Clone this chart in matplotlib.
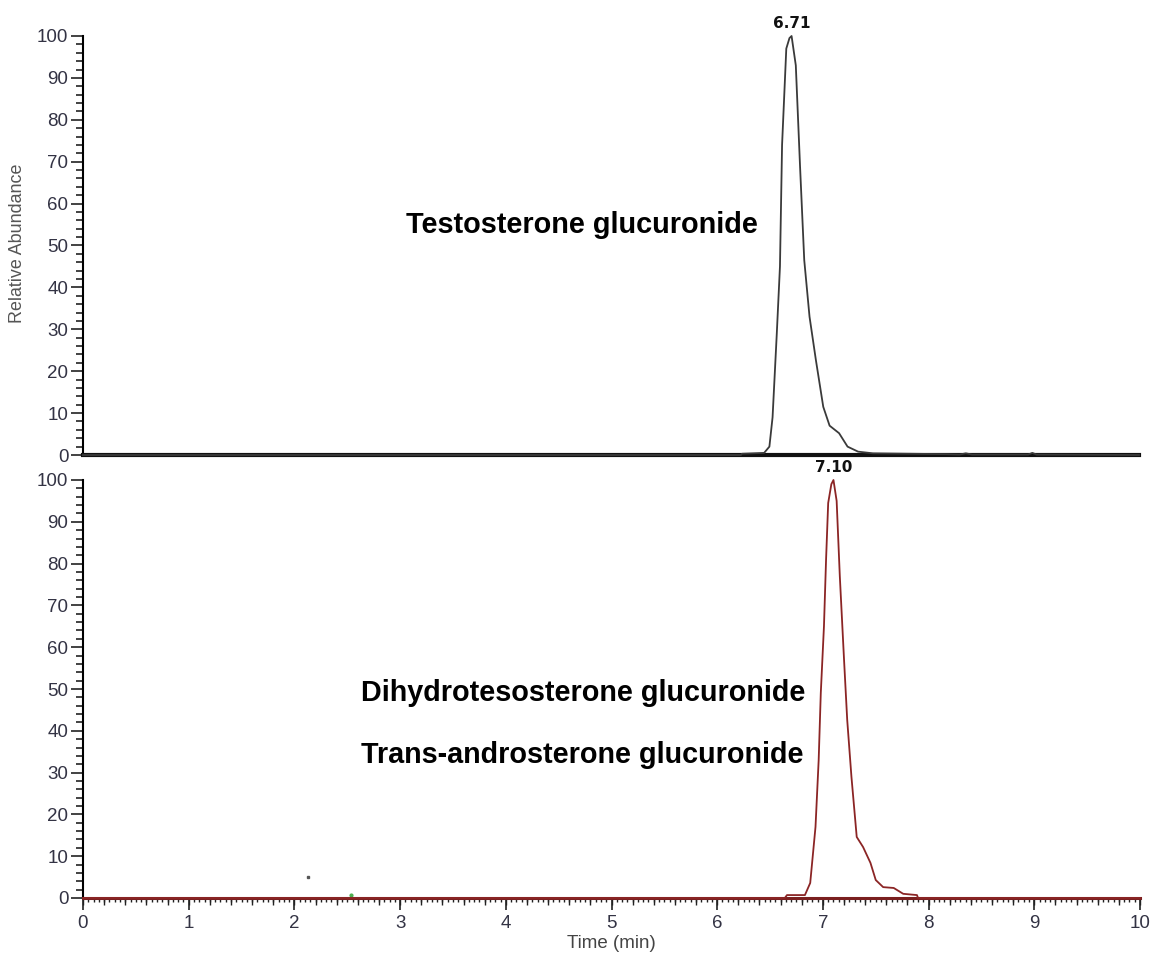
import matplotlib
matplotlib.use("Agg")
import matplotlib.pyplot as plt
from matplotlib.ticker import MultipleLocator

plt.rcParams['font.family'] = ['Liberation Sans', 'DejaVu Sans']

# ---- data ----
time_top = [0, 6.23, 6.24, 6.45, 6.50, 6.53, 6.57, 6.60, 6.62, 6.66, 6.69, 6.71,
            6.75, 6.79, 6.83, 6.88, 6.94, 7.01, 7.07, 7.16, 7.24, 7.34, 7.48,
            8.17, 8.30, 8.36, 8.42, 8.95, 8.99, 9.03, 10]
abund_top = [0, 0, 0.3, 0.5, 2, 9, 29, 45, 74, 97, 99.5, 100,
             93, 69, 46.5, 33, 22.7, 11.5, 7, 5.2, 2, 0.8, 0.4,
             0.2, 0.1, 0.4, 0.1, 0.1, 0.5, 0.1, 0]

time_bot = [0, 6.64, 6.66, 6.83, 6.88, 6.93, 6.96, 6.98, 7.01, 7.03, 7.05, 7.08,
            7.10, 7.13, 7.16, 7.20, 7.23, 7.27, 7.32, 7.38, 7.45, 7.50, 7.57,
            7.67, 7.76, 7.89, 7.90, 10]
abund_bot = [0, 0, 0.7, 0.7, 3.6, 17, 33, 49, 65, 81, 94.5, 99,
             100, 95, 77, 57, 42.6, 29, 14.6, 12.2, 8.4, 4.3, 2.6,
             2.4, 1, 0.7, 0, 0]

peak_top_label = "6.71"
peak_top_time = 6.71
peak_bot_label = "7.10"
peak_bot_time = 7.10

compound_top = ["Testosterone glucuronide"]
compound_bot = ["Dihydrotesosterone glucuronide", "Trans-androsterone glucuronide"]

y_ticks = list(range(0, 101, 10))
x_ticks = list(range(0, 11))

# ---- figure ----
W, H = 1153, 958
fig = plt.figure(figsize=(W / 100, H / 100), dpi=100)

def ax_rect(left_px, right_px, top_px, bottom_px):
    return [left_px / W, 1 - bottom_px / H, (right_px - left_px) / W, (bottom_px - top_px) / H]

ax1 = fig.add_axes(ax_rect(83, 1139, 36, 455))
ax2 = fig.add_axes(ax_rect(83, 1140, 480, 898))

tick_color = '#333344'
top_color = '#3a3a3a'
bot_color = '#8b2525'

for ax in (ax1, ax2):
    ax.set_xlim(0, 10)
    ax.set_ylim(0, 100)
    ax.spines['top'].set_visible(False)
    ax.spines['right'].set_visible(False)
    ax.spines['left'].set_linewidth(1.5)
    ax.set_yticks(y_ticks)
    ax.yaxis.set_minor_locator(MultipleLocator(2))
    ax.tick_params(axis='y', which='major', length=8.6, width=1.2, pad=2,
                   labelsize=13.5, labelcolor=tick_color, color='#222222')
    ax.tick_params(axis='y', which='minor', length=5, width=1.2, color='#222222')

# top panel
ax1.plot(time_top, abund_top, color=top_color, lw=1.3, clip_on=False, zorder=3)
ax1.spines['bottom'].set_linewidth(3)
ax1.spines['bottom'].set_color('#111111')
ax1.tick_params(axis='x', which='both', bottom=False, labelbottom=False)
ax1.text(peak_top_time, 101.3, peak_top_label, ha='center', va='bottom',
         fontsize=11, fontweight='bold', color='#111111', clip_on=False,
         family='DejaVu Sans')
ax1.text(3.06, 54.9, compound_top[0], ha='left', va='center',
         fontsize=20.8, fontweight='bold', color='black')

# bottom panel
ax2.plot(time_bot, abund_bot, color=bot_color, lw=1.3, clip_on=False, zorder=3)
ax2.spines['bottom'].set_linewidth(2.2)
ax2.spines['bottom'].set_color('#7a1f1f')
ax2.set_xticks(x_ticks)
ax2.xaxis.set_minor_locator(MultipleLocator(0.05))
ax2.tick_params(axis='x', which='major', length=8.6, width=1.2, pad=4,
                labelsize=13.5, labelcolor=tick_color, color='#222222')
ax2.tick_params(axis='x', which='minor', length=2.9, width=1.0, color='#222222')
sec = ax2.secondary_xaxis('bottom')
sec.set_xticks([i * 0.2 for i in range(51)])
sec.tick_params(axis='x', length=5, width=1.0, color='#222222', labelbottom=False)
sec.spines['bottom'].set_visible(False)
ax2.text(peak_bot_time, 101.3, peak_bot_label, ha='center', va='bottom',
         fontsize=11, fontweight='bold', color='#111111', clip_on=False,
         family='DejaVu Sans')
ax2.text(2.63, 49.0, compound_bot[0], ha='left', va='center',
         fontsize=20.7, fontweight='bold', color='black')
ax2.text(2.63, 34.2, compound_bot[1], ha='left', va='center',
         fontsize=20.7, fontweight='bold', color='black')
# small stray marks
ax2.plot([2.13], [5.0], marker='s', ms=1.5, color='#555555', lw=0)
ax2.plot([2.54], [0.6], marker='o', ms=2, color='#4caf50', lw=0)

fig.text(18 / W, 1 - 243 / H, "Relative Abundance", rotation=90, ha='center',
         va='center', fontsize=12.9, color='#555555')
fig.text(611 / W, 1 - 944 / H, "Time (min)", ha='center', va='center',
         fontsize=13.5, color='#444444')

fig.savefig("out.png", dpi=100)
